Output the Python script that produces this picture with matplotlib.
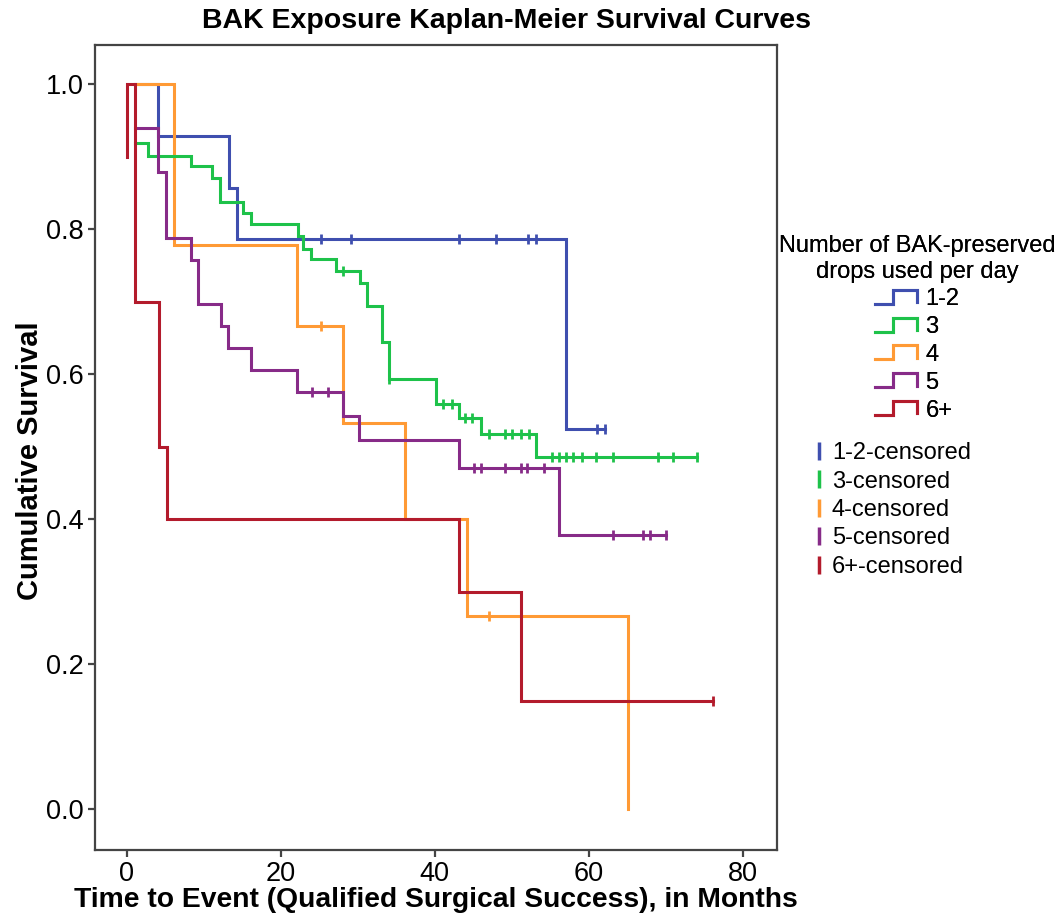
import numpy as np
import matplotlib
matplotlib.use("Agg")
import matplotlib.pyplot as plt
from matplotlib.lines import Line2D
from matplotlib.legend_handler import HandlerBase

plt.rcParams['font.family'] = ['Liberation Sans', 'DejaVu Sans']

# ---- Kaplan-Meier step data (time in months, cumulative survival) ----
groups = ["1-2", "3", "4", "5", "6+"]
colors = {"1-2": "#3F4FAF", "3": "#1EC24A", "4": "#FF9A35", "5": "#872B88", "6+": "#B31B2C"}

times_12 = [1.1, 4.1, 13.3, 14.3, 57.1, 62.1]
surv_12 = [1.0, 0.929, 0.857, 0.786, 0.524, 0.524]
cens_12 = [25.2, 29.2, 43.2, 48.0, 52.1, 53.2, 61.1, 62.1]

times_3 = [1.1, 2.8, 8.3, 11.1, 12.1, 15.1, 16.2, 22.2, 22.9, 24.0, 27.2,
           30.3, 31.2, 33.1, 34.1, 40.2, 43.2, 46.0, 53.2, 74.0]
surv_3 = [0.919, 0.901, 0.887, 0.871, 0.838, 0.822, 0.807, 0.790, 0.772, 0.759, 0.742,
          0.726, 0.694, 0.644, 0.594, 0.559, 0.540, 0.518, 0.486, 0.486]
cens_3 = [28.1, 34.1, 41.1, 42.2, 43.9, 44.8, 47.0, 49.1, 50.1, 51.2, 52.2,
          55.2, 56.2, 57.1, 58.0, 59.1, 61.0, 63.1, 69.0, 71.0, 74.0]

times_4 = [1.1, 6.2, 22.1, 28.1, 36.1, 44.2, 65.1]
surv_4 = [1.0, 0.778, 0.667, 0.533, 0.400, 0.267, 0.0]
cens_4 = [25.2, 47.1]

times_5 = [1.1, 4.1, 5.1, 8.4, 9.3, 12.2, 13.2, 16.1, 22.1, 28.1, 30.2, 43.2, 56.1, 70.0]
surv_5 = [0.939, 0.879, 0.788, 0.758, 0.697, 0.667, 0.636, 0.606, 0.576, 0.543,
          0.509, 0.471, 0.378, 0.378]
cens_5 = [24.1, 26.1, 45.1, 46.0, 49.1, 51.2, 52.0, 54.2, 63.1, 67.1, 68.0, 70.0]

times_6 = [0.0, 0.0, 1.1, 4.2, 5.2, 43.2, 51.2, 76.1]
surv_6 = [0.9, 1.0, 0.7, 0.5, 0.4, 0.3, 0.15, 0.15]
cens_6 = [76.1]

series = {
    "1-2": (times_12, surv_12, cens_12),
    "3": (times_3, surv_3, cens_3),
    "4": (times_4, surv_4, cens_4),
    "5": (times_5, surv_5, cens_5),
    "6+": (times_6, surv_6, cens_6),
}

x_ticks = [0, 20, 40, 60, 80]
y_ticks = [0.0, 0.2, 0.4, 0.6, 0.8, 1.0]


def survival_at(t, times, surv):
    idx = np.searchsorted(np.asarray(times), t, side="right") - 1
    return np.asarray(surv)[np.clip(idx, 0, len(surv) - 1)]


class StepHandler(HandlerBase):
    def create_artists(self, legend, orig_handle, xdescent, ydescent,
                       width, height, fontsize, trans):
        xs = np.array([0.0, 0.42, 0.42, 1.0, 1.0]) * width - xdescent
        ys = np.array([0.1, 0.1, 0.95, 0.95, 0.2]) * height - ydescent
        ln = Line2D(xs, ys, color=orig_handle.get_color(),
                    lw=orig_handle.get_linewidth(), solid_joinstyle="miter")
        ln.set_transform(trans)
        return [ln]


fig = plt.figure(figsize=(10.59, 9.16), dpi=100)
ax = fig.add_axes([0.0897, 0.0721, 0.6437, 0.8788])

draw_order = ["1-2", "4", "3", "5", "6+"]
step_handles = {}
for g in draw_order:
    t, s, c = series[g]
    ln, = ax.step(t, s, where="post", color=colors[g], lw=2.2, solid_joinstyle="miter")
    step_handles[g] = ln
    ax.plot(c, survival_at(c, t, s), linestyle="None", marker="|",
            markersize=6.5, markeredgewidth=2.0, color=colors[g])

ax.set_xlim(-4.1, 84.4)
ax.set_ylim(-0.056, 1.054)
ax.set_xticks(x_ticks)
ax.set_yticks(y_ticks)
ax.set_yticklabels([f"{v:.1f}" for v in y_ticks])
ax.tick_params(direction="out", length=5, width=1.6, labelsize=19.5, color="#444444", pad=3)
for sp in ax.spines.values():
    sp.set_linewidth(1.6)
    sp.set_color("#444444")

ax.set_xlabel("Time to Event (Qualified Surgical Success), in Months",
              fontsize=20.3, fontweight="bold", labelpad=0)
ax.set_ylabel("Cumulative Survival", fontsize=21, fontweight="bold")
ax.yaxis.set_label_coords(-0.075, 0.484)

fig.text(0.478, 0.977, "BAK Exposure Kaplan-Meier Survival Curves",
         ha="center", va="center", fontsize=20.5, fontweight="bold")

leg1 = fig.legend([step_handles[g] for g in groups], groups,
                  title="Number of BAK-preserved\ndrops used per day",
                  handler_map={Line2D: StepHandler()},
                  loc="upper center", bbox_to_anchor=(0.866, 0.756),
                  frameon=False, fontsize=17, title_fontsize=17,
                  handlelength=1.8, handleheight=0.7, handletextpad=0.35,
                  labelspacing=0.245, borderpad=0)
leg1.get_title().set_multialignment("center")
fig.add_artist(leg1)

cens_handles = [Line2D([], [], color=colors[g], marker="|", linestyle="None",
                       markersize=13, markeredgewidth=2.5) for g in groups]
leg2 = fig.legend(cens_handles, [f"{g}-censored" for g in groups],
                  loc="upper left", bbox_to_anchor=(0.7565, 0.530),
                  frameon=False, fontsize=17, handlelength=0.5,
                  handletextpad=0.3, labelspacing=0.27, borderpad=0)

fig.savefig("out.png", dpi=100)
